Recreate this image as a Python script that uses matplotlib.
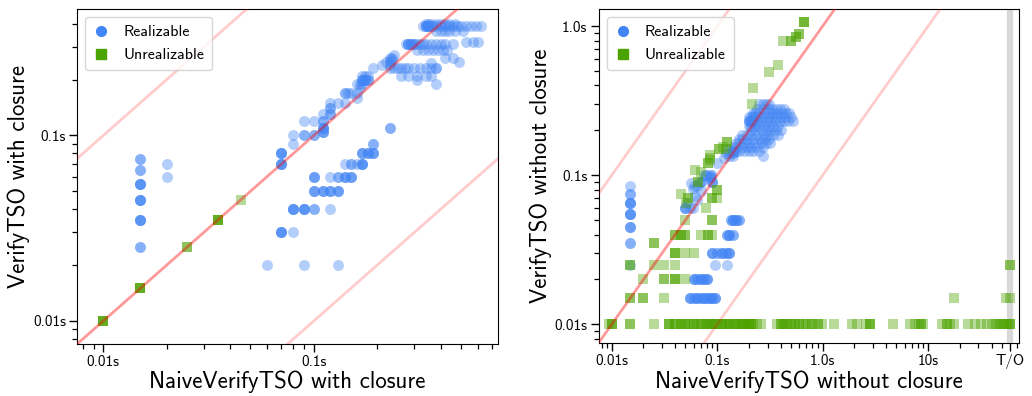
import numpy as np
import matplotlib
matplotlib.use("Agg")
import matplotlib.pyplot as plt
from matplotlib.lines import Line2D
from matplotlib.ticker import LogLocator, NullFormatter

plt.rcParams['font.family'] = ['cmss10', 'DejaVu Sans']
plt.rcParams['axes.unicode_minus'] = False

BLUE = '#4285f4'
GREEN = '#4ca300'

# --- with closure: runtimes in seconds (NaiveVerifyTSO, VerifyTSO) ---
# repeated entries are separate benchmarks with the same timings
lr_x = [0.015, 0.015, 0.015, 0.015, 0.015, 0.015, 0.015, 0.015, 0.015, 0.015,
        0.015, 0.015, 0.015, 0.015, 0.015, 0.015, 0.015, 0.015,
        0.02, 0.02,
        0.06, 0.09, 0.13,
        0.07, 0.07, 0.07, 0.07, 0.08,
        0.08, 0.08, 0.08, 0.08, 0.09, 0.09, 0.09, 0.09, 0.10, 0.10, 0.12,
        0.10, 0.10, 0.10, 0.11, 0.11, 0.11, 0.12, 0.12, 0.12, 0.13, 0.13, 0.13,
        0.10, 0.10, 0.10, 0.12, 0.13, 0.13, 0.14, 0.14, 0.14, 0.15, 0.15, 0.15,
        0.14, 0.15, 0.15, 0.16, 0.17, 0.17, 0.17, 0.17,
        0.17, 0.17, 0.17, 0.18, 0.18, 0.18, 0.19, 0.19, 0.19,
        0.19, 0.19, 0.23, 0.23,
        0.07, 0.07, 0.07, 0.07, 0.07, 0.07, 0.07, 0.07,
        0.08, 0.08, 0.09, 0.09, 0.09, 0.10, 0.10, 0.10,
        0.11, 0.11, 0.11, 0.11, 0.11, 0.11, 0.11, 0.11, 0.11, 0.11,
        0.12, 0.12, 0.12, 0.12, 0.12, 0.13,
        0.14, 0.14, 0.14, 0.145, 0.15, 0.16, 0.16, 0.16,
        0.165, 0.165, 0.17, 0.17, 0.17, 0.17, 0.175, 0.175, 0.175, 0.18, 0.18,
        0.17, 0.175, 0.18,
        0.19, 0.21, 0.22, 0.23, 0.23, 0.235, 0.23, 0.235, 0.24, 0.23,
        0.23, 0.24, 0.25, 0.26, 0.27, 0.28, 0.30, 0.32, 0.34, 0.36, 0.38, 0.38,
        0.26, 0.28, 0.31, 0.34, 0.36,
        0.31, 0.38, 0.36,
        0.275, 0.28, 0.28, 0.29, 0.29, 0.30, 0.30, 0.31, 0.32, 0.33, 0.34,
        0.36, 0.38, 0.40, 0.42, 0.46, 0.28, 0.29,
        0.31, 0.33, 0.35, 0.37, 0.39, 0.41, 0.43,
        0.42, 0.46, 0.49,
        0.33, 0.34, 0.34, 0.35, 0.35, 0.36, 0.37, 0.38, 0.40, 0.42, 0.44,
        0.46, 0.48, 0.50, 0.53, 0.56, 0.59, 0.62, 0.34, 0.35,
        0.34, 0.35, 0.36, 0.38, 0.40, 0.42, 0.44, 0.47,
        0.38, 0.40, 0.42, 0.44, 0.47, 0.51,
        0.53, 0.57, 0.60]
lr_y = [0.075, 0.075, 0.065, 0.065, 0.055, 0.055, 0.055, 0.055, 0.045, 0.045,
        0.045, 0.045, 0.035, 0.035, 0.035, 0.035, 0.025, 0.025,
        0.07, 0.06,
        0.02, 0.02, 0.02,
        0.03, 0.03, 0.03, 0.03, 0.03,
        0.04, 0.04, 0.04, 0.04, 0.04, 0.04, 0.04, 0.04, 0.04, 0.04, 0.04,
        0.05, 0.05, 0.05, 0.05, 0.05, 0.05, 0.05, 0.05, 0.05, 0.05, 0.05, 0.05,
        0.06, 0.06, 0.06, 0.06, 0.06, 0.06, 0.06, 0.06, 0.06, 0.06, 0.06, 0.06,
        0.07, 0.07, 0.07, 0.07, 0.07, 0.07, 0.07, 0.07,
        0.08, 0.08, 0.08, 0.08, 0.08, 0.08, 0.08, 0.08, 0.08,
        0.09, 0.09, 0.11, 0.11,
        0.07, 0.07, 0.07, 0.07, 0.08, 0.08, 0.08, 0.08,
        0.09, 0.10, 0.10, 0.12, 0.10, 0.10, 0.10, 0.12,
        0.11, 0.11, 0.11, 0.12, 0.12, 0.105, 0.105, 0.13, 0.11, 0.105,
        0.13, 0.14, 0.14, 0.15, 0.13, 0.15,
        0.17, 0.17, 0.15, 0.17, 0.17, 0.17, 0.16, 0.19,
        0.19, 0.18, 0.20, 0.20, 0.19, 0.21, 0.20, 0.21, 0.20, 0.20, 0.21,
        0.20, 0.20, 0.20,
        0.23, 0.24, 0.25, 0.255, 0.25, 0.26, 0.26, 0.255, 0.27, 0.24,
        0.23, 0.23, 0.23, 0.23, 0.23, 0.23, 0.23, 0.23, 0.23, 0.23, 0.23, 0.23,
        0.21, 0.21, 0.21, 0.21, 0.21,
        0.20, 0.19, 0.245,
        0.31, 0.31, 0.31, 0.31, 0.31, 0.31, 0.31, 0.31, 0.31, 0.31, 0.31,
        0.31, 0.31, 0.31, 0.31, 0.31, 0.31, 0.31,
        0.29, 0.29, 0.29, 0.29, 0.29, 0.29, 0.29,
        0.26, 0.26, 0.25,
        0.39, 0.39, 0.39, 0.39, 0.39, 0.39, 0.39, 0.39, 0.39, 0.39, 0.39,
        0.39, 0.39, 0.39, 0.39, 0.39, 0.39, 0.39, 0.39, 0.39,
        0.40, 0.40, 0.40, 0.40, 0.40, 0.40, 0.40, 0.40,
        0.365, 0.365, 0.365, 0.365, 0.365, 0.365,
        0.32, 0.32, 0.32]

lu_x = [0.01, 0.01, 0.01, 0.01, 0.015, 0.015, 0.015, 0.015, 0.025, 0.025,
        0.035, 0.035, 0.035, 0.035, 0.045]
lu_y = [0.01, 0.01, 0.01, 0.01, 0.015, 0.015, 0.015, 0.015, 0.025, 0.025,
        0.035, 0.035, 0.035, 0.035, 0.045]

# --- without closure (timeouts plotted at 60s) ---
rr_x = [0.015, 0.015, 0.015, 0.015, 0.015, 0.015, 0.015, 0.015, 0.015, 0.015,
        0.015, 0.015, 0.015, 0.015, 0.015, 0.015, 0.015,
        0.055, 0.06, 0.065, 0.07, 0.075, 0.08, 0.085, 0.09, 0.095,
        0.055, 0.06, 0.065, 0.07, 0.075, 0.08, 0.085, 0.09, 0.095,
        0.055, 0.065, 0.075, 0.085, 0.095,
        0.06, 0.065, 0.07, 0.075, 0.08, 0.06, 0.065, 0.07, 0.075, 0.08,
        0.06, 0.07, 0.08,
        0.095, 0.125,
        0.09, 0.10, 0.11, 0.12, 0.13, 0.09, 0.10, 0.11, 0.12, 0.13,
        0.09, 0.11, 0.13,
        0.125, 0.13, 0.14, 0.125, 0.13, 0.14, 0.13,
        0.135, 0.14, 0.15, 0.16, 0.135, 0.14, 0.15, 0.16, 0.14, 0.15,
        0.049, 0.049, 0.055, 0.059, 0.052, 0.065, 0.061, 0.059, 0.057,
        0.07, 0.07, 0.085, 0.085, 0.09, 0.09, 0.088, 0.088, 0.079, 0.079,
        0.075, 0.068, 0.06, 0.065, 0.07, 0.049, 0.085, 0.09,
        0.10, 0.115, 0.12, 0.125, 0.13, 0.14, 0.13, 0.14, 0.14, 0.14,
        0.25, 0.27, 0.29, 0.31,
        0.24, 0.27, 0.30, 0.33, 0.36, 0.39, 0.43,
        0.22, 0.23, 0.25, 0.28, 0.31, 0.34, 0.37, 0.41, 0.45, 0.48,
        0.20, 0.21, 0.22, 0.23, 0.25, 0.27, 0.30, 0.33, 0.36, 0.40, 0.44, 0.50,
        0.20, 0.20, 0.21, 0.22, 0.24, 0.26, 0.29, 0.32, 0.35, 0.39, 0.43,
        0.47, 0.52, 0.20, 0.21, 0.22,
        0.20, 0.21, 0.23, 0.25, 0.28, 0.31, 0.34, 0.38,
        0.21, 0.23, 0.26, 0.29, 0.32, 0.36, 0.40,
        0.17, 0.19, 0.21, 0.24, 0.27, 0.30, 0.34, 0.38,
        0.16, 0.17, 0.19, 0.22, 0.25, 0.28, 0.31,
        0.15, 0.16, 0.18, 0.20, 0.23, 0.26, 0.29, 0.32,
        0.14, 0.15, 0.17, 0.19, 0.21, 0.24, 0.27,
        0.14, 0.14, 0.15, 0.16, 0.18, 0.20, 0.22, 0.25, 0.27]
rr_y = [0.085, 0.075, 0.075, 0.065, 0.065, 0.065, 0.065, 0.055, 0.055, 0.055,
        0.055, 0.045, 0.045, 0.045, 0.035, 0.035, 0.025,
        0.015, 0.015, 0.015, 0.015, 0.015, 0.015, 0.015, 0.015, 0.015,
        0.015, 0.015, 0.015, 0.015, 0.015, 0.015, 0.015, 0.015, 0.015,
        0.015, 0.015, 0.015, 0.015, 0.015,
        0.02, 0.02, 0.02, 0.02, 0.02, 0.02, 0.02, 0.02, 0.02, 0.02,
        0.02, 0.02, 0.02,
        0.025, 0.025,
        0.03, 0.03, 0.03, 0.03, 0.03, 0.03, 0.03, 0.03, 0.03, 0.03,
        0.03, 0.03, 0.03,
        0.04, 0.04, 0.04, 0.04, 0.04, 0.04, 0.04,
        0.05, 0.05, 0.05, 0.05, 0.05, 0.05, 0.05, 0.05, 0.05, 0.05,
        0.06, 0.06, 0.06, 0.06, 0.065, 0.068, 0.072, 0.081, 0.088,
        0.09, 0.09, 0.097, 0.097, 0.09, 0.09, 0.10, 0.10, 0.10, 0.10,
        0.10, 0.09, 0.085, 0.085, 0.078, 0.06, 0.097, 0.09,
        0.12, 0.13, 0.14, 0.15, 0.14, 0.14, 0.135, 0.135, 0.14, 0.145,
        0.30, 0.30, 0.30, 0.30,
        0.28, 0.28, 0.28, 0.28, 0.28, 0.28, 0.28,
        0.26, 0.26, 0.26, 0.26, 0.26, 0.26, 0.26, 0.26, 0.26, 0.26,
        0.245, 0.245, 0.245, 0.245, 0.245, 0.245, 0.245, 0.245, 0.245, 0.245,
        0.245, 0.245,
        0.23, 0.23, 0.23, 0.23, 0.23, 0.23, 0.23, 0.23, 0.23, 0.23, 0.23,
        0.23, 0.23, 0.23, 0.23, 0.23,
        0.215, 0.215, 0.215, 0.215, 0.215, 0.215, 0.215, 0.215,
        0.20, 0.20, 0.20, 0.20, 0.20, 0.20, 0.20,
        0.185, 0.185, 0.185, 0.185, 0.185, 0.185, 0.185, 0.185,
        0.175, 0.175, 0.175, 0.175, 0.175, 0.175, 0.175,
        0.165, 0.165, 0.165, 0.165, 0.165, 0.165, 0.165, 0.165,
        0.155, 0.155, 0.155, 0.155, 0.155, 0.155, 0.155,
        0.145, 0.145, 0.145, 0.145, 0.145, 0.145, 0.145, 0.145, 0.135]

ru_x = [0.0095, 0.01, 0.01, 0.01, 0.015, 0.015, 0.025, 0.035, 0.035, 0.035,
        0.04, 0.045, 0.05, 0.055, 0.06, 0.065, 0.07, 0.075, 0.08, 0.085,
        0.09, 0.095, 0.10, 0.11, 0.12, 0.13, 0.14, 0.15, 0.16, 0.17, 0.18,
        0.19, 0.20, 0.21, 0.22,
        0.04, 0.045, 0.05, 0.06, 0.07, 0.08, 0.09, 0.10, 0.11, 0.12, 0.13,
        0.15, 0.17, 0.18, 0.20, 0.21,
        0.04, 0.05, 0.06, 0.08, 0.10, 0.12, 0.15, 0.18, 0.21,
        0.24, 0.26, 0.37, 0.40, 0.43, 0.46, 0.50, 0.55, 0.60,
        0.65, 0.72, 0.80, 0.90, 0.98, 0.40, 0.45, 0.50, 0.60, 0.80, 0.90,
        0.42, 0.55, 0.70,
        1.27, 1.9, 2.1, 2.6, 2.8, 2.8, 2.8, 4.6, 6.8, 7.5, 8.2, 9.0, 8.5, 8.5,
        13.5, 15.0, 15.0, 16.0, 17.5, 24.0, 28.0, 32.0, 36.0, 40.0, 44.0,
        48.0, 52.0, 56.0, 60.0, 60.0, 60.0, 45.0, 50.0, 55.0,
        0.015, 0.015, 0.02, 0.02, 0.031, 17.5, 55.0, 60.0,
        0.02, 0.031, 0.031, 0.04, 0.04, 0.04, 0.049,
        0.015, 0.015, 0.025, 0.031, 0.04, 60.0, 60.0,
        0.025, 0.025, 0.04, 0.04, 0.04, 0.05, 0.06,
        0.04, 0.04, 0.045, 0.045, 0.05, 0.05, 0.07, 0.082, 0.082, 0.09,
        0.089, 0.089, 0.049, 0.079, 0.045, 0.09, 0.09, 0.10, 0.10, 0.10,
        0.051, 0.053, 0.053, 0.061, 0.082, 0.082, 0.085, 0.07, 0.085,
        0.113, 0.125, 0.125, 0.085, 0.12, 0.105, 0.105,
        0.066, 0.066, 0.42, 0.50, 0.50, 0.56, 0.56, 0.60, 0.60,
        0.38, 0.31, 0.22, 0.215, 0.66, 0.66, 0.66]
ru_y = [0.01, 0.01, 0.01, 0.01, 0.01, 0.01, 0.01, 0.01, 0.01, 0.01,
        0.01, 0.01, 0.01, 0.01, 0.01, 0.01, 0.01, 0.01, 0.01, 0.01,
        0.01, 0.01, 0.01, 0.01, 0.01, 0.01, 0.01, 0.01, 0.01, 0.01, 0.01,
        0.01, 0.01, 0.01, 0.01,
        0.01, 0.01, 0.01, 0.01, 0.01, 0.01, 0.01, 0.01, 0.01, 0.01, 0.01,
        0.01, 0.01, 0.01, 0.01, 0.01,
        0.01, 0.01, 0.01, 0.01, 0.01, 0.01, 0.01, 0.01, 0.01,
        0.01, 0.01, 0.01, 0.01, 0.01, 0.01, 0.01, 0.01, 0.01,
        0.01, 0.01, 0.01, 0.01, 0.01, 0.01, 0.01, 0.01, 0.01, 0.01, 0.01,
        0.01, 0.01, 0.01,
        0.01, 0.01, 0.01, 0.01, 0.01, 0.01, 0.01, 0.01, 0.01, 0.01, 0.01,
        0.01, 0.01, 0.01,
        0.01, 0.01, 0.01, 0.01, 0.01, 0.01, 0.01, 0.01, 0.01, 0.01, 0.01,
        0.01, 0.01, 0.01, 0.01, 0.01, 0.01, 0.01, 0.01, 0.01,
        0.015, 0.015, 0.015, 0.015, 0.015, 0.015, 0.015, 0.015,
        0.02, 0.02, 0.02, 0.02, 0.02, 0.02, 0.02,
        0.025, 0.025, 0.025, 0.025, 0.025, 0.025, 0.025,
        0.035, 0.035, 0.03, 0.03, 0.03, 0.03, 0.03,
        0.04, 0.04, 0.04, 0.04, 0.04, 0.04, 0.04, 0.04, 0.04, 0.04,
        0.05, 0.05, 0.05, 0.06, 0.075, 0.07, 0.07, 0.07, 0.08, 0.08,
        0.065, 0.07, 0.07, 0.108, 0.12, 0.12, 0.136, 0.105, 0.126,
        0.155, 0.167, 0.167, 0.13, 0.15, 0.15, 0.15,
        0.09, 0.09, 0.80, 0.80, 0.80, 0.84, 0.84, 0.89, 0.89,
        0.55, 0.49, 0.385, 0.30, 1.06, 1.06, 1.06]

TIMEOUT = 60.0


def setup_axes(ax, xlim, ylim, xticks, xlabels, yticks, ylabels, xlabel, ylabel):
    ax.set_xscale('log')
    ax.set_yscale('log')
    ax.set_xlim(*xlim)
    ax.set_ylim(*ylim)
    ax.set_xticks(xticks)
    ax.set_xticklabels(xlabels)
    ax.set_yticks(yticks)
    ax.set_yticklabels(ylabels)
    for axis in (ax.xaxis, ax.yaxis):
        axis.set_minor_locator(LogLocator(base=10, subs=np.arange(2, 10), numticks=30))
        axis.set_minor_formatter(NullFormatter())
    ax.tick_params(axis='both', which='major', labelsize=11, length=6,
                   width=1.0, pad=2)
    ax.tick_params(axis='both', which='minor', length=3.5, width=0.9)
    ax.set_xlabel(xlabel, fontsize=16.5, labelpad=1)
    ax.set_ylabel(ylabel, fontsize=16.5, labelpad=2)
    # reference lines: equal time, and 10x faster / slower
    ax.axline((0.01, 0.01), (0.1, 0.1), color='red', alpha=0.4, lw=2, zorder=3)
    ax.axline((0.01, 0.1), (0.1, 1.0), color='red', alpha=0.2, lw=2, zorder=3)
    ax.axline((0.1, 0.01), (1.0, 0.1), color='red', alpha=0.2, lw=2, zorder=3)
    handles = [Line2D([], [], ls='', marker='o', color=BLUE, markersize=7),
               Line2D([], [], ls='', marker='s', color=GREEN, markersize=7)]
    ax.legend(handles, ['Realizable', 'Unrealizable'], loc='upper left',
              fontsize=11.5, handlelength=1.0, handletextpad=0.9,
              borderpad=0.5, labelspacing=0.55, borderaxespad=0.5)


fig = plt.figure(figsize=(10.32, 3.96), dpi=100)
ax1 = fig.add_axes([0.0746, 0.131, 0.408, 0.846])
ax2 = fig.add_axes([0.580, 0.134, 0.407, 0.843])

ax1.scatter(lr_x, lr_y, s=62, marker='o', color=BLUE, alpha=0.4, lw=0, zorder=2)
ax1.scatter(lu_x, lu_y, s=62, marker='s', color=GREEN, alpha=0.4, lw=0, zorder=2)
setup_axes(ax1, (0.0075, 0.75), (0.0075, 0.48),
           [0.01, 0.1], ['0.01s', '0.1s'], [0.01, 0.1], ['0.01s', '0.1s'],
           'NaiveVerifyTSO with closure', 'VerifyTSO with closure')

ax2.axvline(TIMEOUT, color='#d8d8d8', lw=4.5, zorder=1)
ax2.scatter(rr_x, rr_y, s=62, marker='o', color=BLUE, alpha=0.4, lw=0, zorder=2)
ax2.scatter(ru_x, ru_y, s=62, marker='s', color=GREEN, alpha=0.4, lw=0, zorder=2)
setup_axes(ax2, (0.0075, 72), (0.0075, 1.3),
           [0.01, 0.1, 1.0, 10, TIMEOUT], ['0.01s', '0.1s', '1.0s', '10s', 'T/O'],
           [0.01, 0.1, 1.0], ['0.01s', '0.1s', '1.0s'],
           'NaiveVerifyTSO without closure', 'VerifyTSO without closure')

fig.savefig('out.png', dpi=100)
